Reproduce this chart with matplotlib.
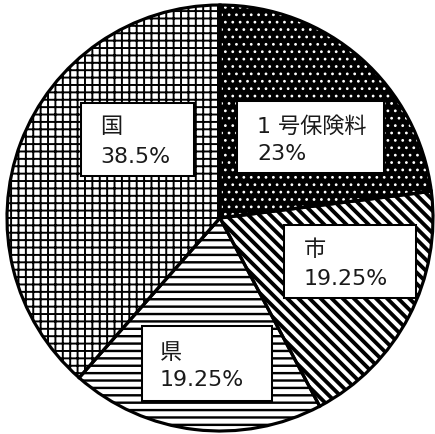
import matplotlib
matplotlib.use("Agg")
import matplotlib.pyplot as plt
from matplotlib.patches import Rectangle, Wedge

# Revenue shares
categories = ["１号保険料", "市", "県", "国"]
shares = [23, 19.25, 19.25, 38.5]
share_labels = ["23%", "19.25%", "19.25%", "38.5%"]
line1_labels = ["1 号保険料", "市", "県", "国"]

DPI = 133
W, H = 435, 434
fig = plt.figure(figsize=(W / DPI, H / DPI), dpi=DPI)
fig.patch.set_facecolor("white")

# circle geometry in pixels (origin top-left)
cx, cy, r = 220, 218, 213
ax = fig.add_axes([(cx - r) / W, (H - cy - r) / H, 2 * r / W, 2 * r / H])

wedges, _ = ax.pie(shares, startangle=90, counterclock=False, radius=1.0,
                   wedgeprops=dict(linewidth=0))
ax.set_xlim(-1, 1)
ax.set_ylim(-1, 1)
ax.set_aspect("auto")
ax.axis("off")


def use_hatch_width(artist, lw):
    """Draw the artist with its own hatch line width."""
    if hasattr(artist, "set_hatch_linewidth"):
        artist.set_hatch_linewidth(lw)
    artist._hatch_linewidth = lw
    orig = artist.draw

    def draw(renderer):
        with matplotlib.rc_context({"hatch.linewidth": lw}):
            orig(renderer)
    artist.draw = draw


BACKSLASH = chr(92)
# fill styles: (face, hatch colour, hatch, hatch linewidth in pt)
styles = [
    ("black", "white", "...", 0.7),
    ("white", "black", BACKSLASH * 4, 2.1),
    ("white", "black", "---", 1.3),
    ("white", "black", "+++", 1.05),
]
for w, (fc, hc, hatch, hlw) in zip(wedges, styles):
    w.set_facecolor(fc)
    w.set_edgecolor(hc)
    w.set_linewidth(0)
    w.set_hatch(hatch)
    use_hatch_width(w, hlw)

# thick black outlines on top of the fills
for w in wedges:
    ow = Wedge(w.center, w.r, w.theta1, w.theta2, fill=False,
               edgecolor="black", linewidth=1.7, zorder=3, clip_on=False)
    ax.add_patch(ow)


def px(x, y):
    return x / W, 1 - y / H


# label boxes (left, top, right, bottom) in pixels
boxes = [
    (237, 101, 384, 173),
    (284, 225, 416, 298),
    (142, 326, 272, 401),
    (81, 103, 194, 176),
]
# text left x and baselines of the two lines
text_pos = [
    (257, 133, 160),
    (304, 256, 285),
    (160, 359, 386),
    (100, 133, 163),
]

font = ["DejaVu Sans", "Noto Sans CJK JP"]
fs = 12
for (l, t, rr, b), (tx, b1, b2), l1, l2 in zip(boxes, text_pos, line1_labels, share_labels):
    x0, y0 = px(l, b)
    rect = Rectangle((x0, y0), (rr - l) / W, (b - t) / H, transform=fig.transFigure,
                     facecolor="white", edgecolor="black", linewidth=1.1, zorder=5)
    fig.patches.append(rect)
    fig.text(*px(tx, b1), l1, fontsize=fs, family=font, color="#1a1a1a",
             ha="left", va="baseline", zorder=6)
    fig.text(*px(tx, b2), l2, fontsize=fs, family=font, color="#1a1a1a",
             ha="left", va="baseline", zorder=6)

fig.savefig("out.png", dpi=DPI, facecolor="white")
